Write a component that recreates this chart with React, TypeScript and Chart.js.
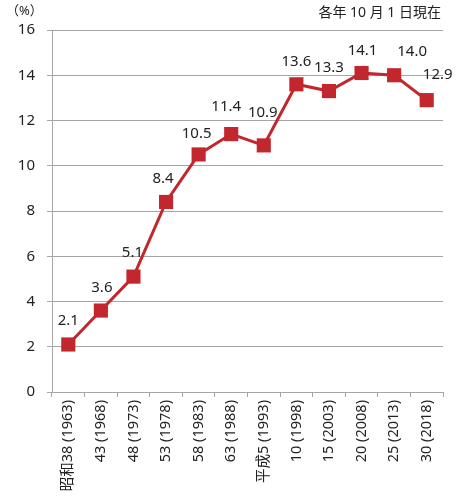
import React, { useEffect, useRef } from "react";
import { Chart, registerables } from "chart.js";

Chart.register(...registerables);

const categories = [
  "昭和38 (1963)",
  "43 (1968)",
  "48 (1973)",
  "53 (1978)",
  "58 (1983)",
  "63 (1988)",
  "平成5 (1993)",
  "10 (1998)",
  "15 (2003)",
  "20 (2008)",
  "25 (2013)",
  "30 (2018)",
];
const values = [2.1, 3.6, 5.1, 8.4, 10.5, 11.4, 10.9, 13.6, 13.3, 14.1, 14.0, 12.9];
const yTicks = [0, 2, 4, 6, 8, 10, 12, 14, 16];
const unitLabel = "（%）";
const noteLabel = "各年 10 月 1 日現在";

// label placement tweaks (pixels, style only)
const labelDx = [0, 1, -1, -3, -2, -5, -1, 0, 0, 1, 18, 11];
const labelDy = [-24, -23, -24, -23, -21, -27, -33, -23, -23, -22, -24, -25];

const FONT = "'Noto Sans', 'Noto Sans CJK JP', sans-serif";
const RED = "#C1272D";

const labelPlugin = {
  id: "pointLabels",
  afterDatasetsDraw(chart: any) {
    const ctx = chart.ctx;
    const meta = chart.getDatasetMeta(0);
    ctx.save();
    ctx.font = `15px ${FONT}`;
    ctx.fillStyle = "#222";
    ctx.textAlign = "center";
    ctx.textBaseline = "middle";
    meta.data.forEach((pt: any, i: number) => {
      ctx.fillText(values[i].toFixed(1), pt.x + labelDx[i], pt.y + labelDy[i]);
    });
    ctx.font = `13px ${FONT}`;
    ctx.textAlign = "left";
    ctx.fillText(unitLabel, 6, 11);
    ctx.font = `14px ${FONT}`;
    ctx.textAlign = "right";
    ctx.fillText(noteLabel, 441, 13);
    ctx.restore();
  },
};

export default function App() {
  const ref = useRef<HTMLCanvasElement>(null);
  useEffect(() => {
    document.body.style.margin = "0";
    const chart = new Chart(ref.current!, {
      type: "line",
      data: {
        labels: categories,
        datasets: [
          {
            data: values,
            borderColor: RED,
            backgroundColor: RED,
            borderWidth: 3,
            pointStyle: "rect",
            pointRadius: 10,
            pointHoverRadius: 10,
            pointBorderWidth: 0,
            tension: 0,
          },
        ],
      },
      options: {
        animation: false,
        responsive: false,
        maintainAspectRatio: false,
        layout: { padding: { top: 30, right: 18, left: 0, bottom: 0 } },
        plugins: { legend: { display: false }, tooltip: { enabled: false } },
        scales: {
          x: {
            offset: true,
            grid: {
              offset: true,
              drawOnChartArea: false,
              drawTicks: true,
              tickLength: 5,
              color: "#a6a6a6",
            },
            border: { color: "#a6a6a6", width: 1 },
            ticks: {
              autoSkip: false,
              maxRotation: 90,
              minRotation: 90,
              font: { family: FONT, size: 14.5 },
              color: "#222",
              padding: 3,
            },
            afterFit(scale: any) {
              scale.height = 107;
            },
          },
          y: {
            min: 0,
            max: 16,
            afterBuildTicks(scale: any) {
              scale.ticks = yTicks.map((v) => ({ value: v }));
            },
            grid: { color: "#a6a6a6", tickLength: 5, drawTicks: true },
            border: { color: "#a6a6a6", width: 1 },
            ticks: {
              font: { family: FONT, size: 15 },
              color: "#222",
              padding: 12,
            },
            afterFit(scale: any) {
              scale.width = 52;
            },
          },
        },
      },
      plugins: [labelPlugin],
    });
    return () => chart.destroy();
  }, []);
  return (
    <div style={{ position: "absolute", left: 0, top: 0, width: 461, height: 499, background: "#fff" }}>
      <canvas ref={ref} width={461} height={499} style={{ width: 461, height: 499 }} />
    </div>
  );
}
